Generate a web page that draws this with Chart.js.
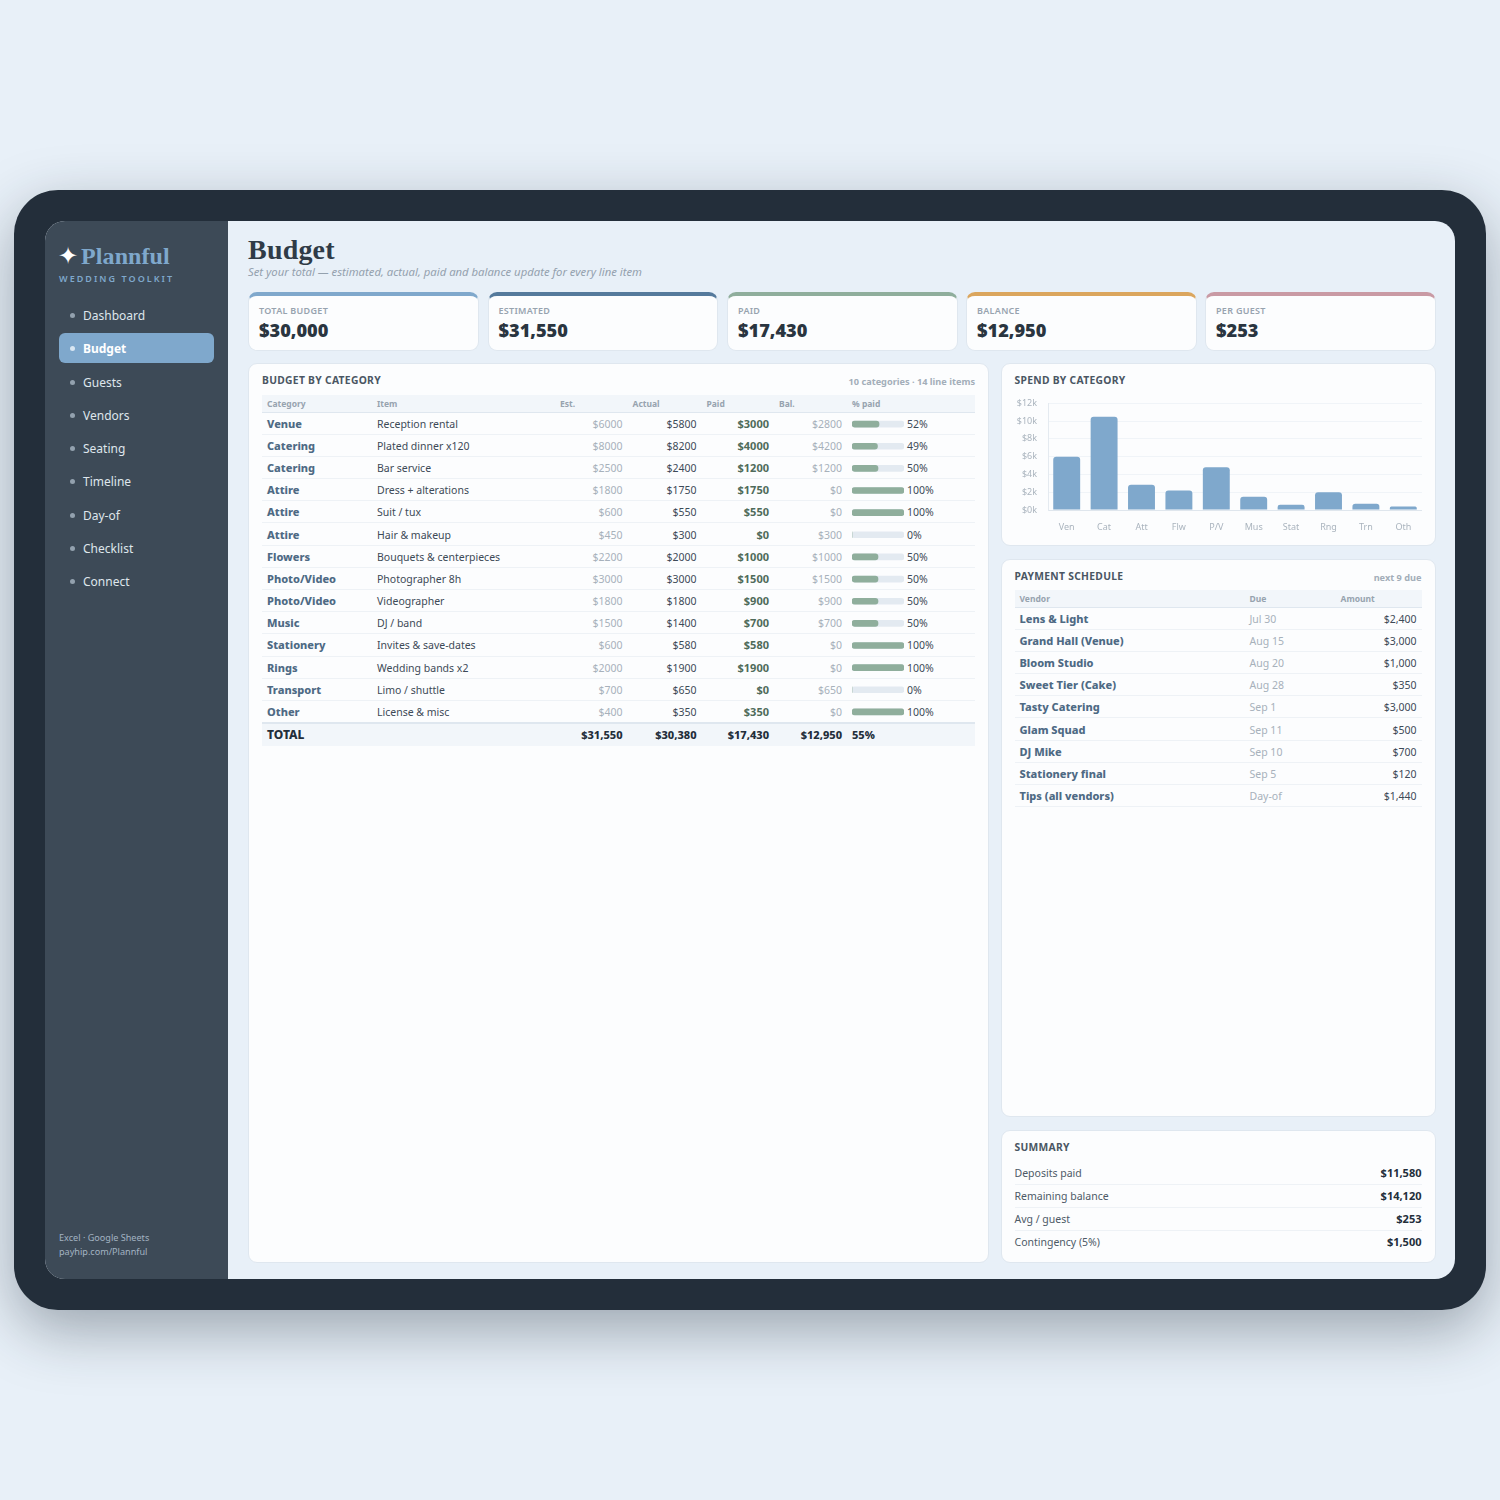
<!DOCTYPE html>
<html>
<head>
<meta charset="utf-8">
<script src="https://cdn.jsdelivr.net/npm/chart.js@4"></script>
<style>
html,body{margin:0;padding:0;width:1500px;height:1500px;overflow:hidden;background:#e8f0f8;font-family:"Noto Sans",sans-serif;}
.abs,div.card,#device,#screen,#side{position:absolute;box-sizing:border-box;}
#device{left:14px;top:190px;width:1472px;height:1120px;background:#232e3a;border-radius:44px;box-shadow:0 20px 60px rgba(30,42,56,.38);}
#screen{left:45px;top:221px;width:1410px;height:1058px;background:#e8f0f8;border-radius:20px;overflow:hidden;}
#side{left:0;top:0;width:183px;height:1058px;background:#3d4a57;}
.card{background:#fcfdfe;border:1px solid #dfe7ef;border-radius:9px;}
.logo{left:36px;top:22px;font:bold 24px "Liberation Serif",serif;letter-spacing:.1px;color:#7fa8cc;white-space:nowrap;}
.nav{left:14px;width:155px;height:30px;line-height:31px;border-radius:6px;color:#dfe6ec;font-size:12px;padding-left:24px;}
.nav i{position:absolute;left:11px;top:13px;width:5px;height:5px;border-radius:50%;background:#93a1ae;}
.nav.on{background:#7fa8cc;color:#fff;font-weight:700;}
.nav.on i{background:#d8e6f2;}
.ttl{font-size:10.3px;font-weight:700;letter-spacing:.3px;color:#4a5663;white-space:nowrap;}
.note{font-size:9.2px;font-weight:700;color:#a3aeb9;white-space:nowrap;}
table{position:absolute;border-collapse:collapse;table-layout:fixed;font-size:10.5px;color:#3d4a57;}
th{height:17px;padding:0 5px;background:#f2f6fa;color:#97a3af;font-size:8.5px;font-weight:700;text-align:left;border-bottom:1px solid #dfe7ef;box-sizing:border-box;}
td{height:22.2px;padding:1px 5px 0;border-bottom:1px solid #eef2f6;box-sizing:border-box;white-space:nowrap;}
td.b{padding-top:0;font-size:11px;font-weight:800;color:#4e6a84;}
td.r{text-align:right;}
td.e{color:#a7b1bb;}
td.p{padding-top:0;font-size:11px;font-weight:700;color:#4f6b5a;}
tr.tot td{padding-top:0;background:#f2f6fa;font-size:11px;font-weight:800;color:#232e3a;border-top:2px solid #dfe7ef;border-bottom:none;height:23px;}
tr.tot td:first-child{font-size:12px;}
.row{height:23.1px;line-height:22px;font-size:10.5px;color:#4d5a67;border-bottom:1px solid #eef2f6;}
.row b{position:absolute;right:0;font-size:11px;color:#232e3a;font-weight:700;}
</style>
</head>
<body>
<div id="device"></div>
<div id="screen">
  <div id="side"></div>
</div>

<script>
// kpi cards
var kpiLabels = ["TOTAL BUDGET", "ESTIMATED", "PAID", "BALANCE", "PER GUEST"];
var kpiValues = ["$30,000", "$31,550", "$17,430", "$12,950", "$253"];
var kpiColors = ["#7fa8cc", "#557a9c", "#8fae9c", "#dba65e", "#c99aa4"];

var navItems = ["Dashboard", "Budget", "Guests", "Vendors", "Seating", "Timeline", "Day-of", "Checklist", "Connect"];

// budget table
var rowCats = ["Venue", "Catering", "Catering", "Attire", "Attire", "Attire", "Flowers", "Photo/Video", "Photo/Video", "Music", "Stationery", "Rings", "Transport", "Other"];
var rowItems = ["Reception rental", "Plated dinner x120", "Bar service", "Dress + alterations", "Suit / tux", "Hair & makeup", "Bouquets & centerpieces", "Photographer 8h", "Videographer", "DJ / band", "Invites & save-dates", "Wedding bands x2", "Limo / shuttle", "License & misc"];
var rowEst = [6000, 8000, 2500, 1800, 600, 450, 2200, 3000, 1800, 1500, 600, 2000, 700, 400];
var rowActual = [5800, 8200, 2400, 1750, 550, 300, 2000, 3000, 1800, 1400, 580, 1900, 650, 350];
var rowPaid = [3000, 4000, 1200, 1750, 550, 0, 1000, 1500, 900, 700, 580, 1900, 0, 350];
var rowBal = [2800, 4200, 1200, 0, 0, 300, 1000, 1500, 900, 700, 0, 0, 650, 0];
var rowPct = [52, 49, 50, 100, 100, 0, 50, 50, 50, 50, 100, 100, 0, 100];
var rowTrack = [100, 100, 100, 100, 100, 100, 100, 100, 100, 100, 100, 100, 100, 100];
var totals = ["$31,550", "$30,380", "$17,430", "$12,950", "55%"];

// spend chart
var spendLabels = ["Ven", "Cat", "Att", "Flw", "P/V", "Mus", "Stat", "Rng", "Trn", "Oth"];
var spendValues = [6000, 10500, 2850, 2200, 4800, 1500, 600, 2000, 700, 400];

// payments
var payVendors = ["Lens & Light", "Grand Hall (Venue)", "Bloom Studio", "Sweet Tier (Cake)", "Tasty Catering", "Glam Squad", "DJ Mike", "Stationery final", "Tips (all vendors)"];
var payDue = ["Jul 30", "Aug 15", "Aug 20", "Aug 28", "Sep 1", "Sep 11", "Sep 10", "Sep 5", "Day-of"];
var payAmount = ["$2,400", "$3,000", "$1,000", "$350", "$3,000", "$500", "$700", "$120", "$1,440"];

var summaryLabels = ["Deposits paid", "Remaining balance", "Avg / guest", "Contingency (5%)"];
var summaryValues = ["$11,580", "$14,120", "$253", "$1,500"];

function add(parent, cls, css, html) {
    var d = document.createElement("div");
    d.className = cls;
    d.style.cssText = "position:absolute;" + css;
    if (html !== undefined) d.innerHTML = html;
    parent.appendChild(d);
    return d;
}
function esc(s) { return s.replace(/&/g, "&amp;"); }

var screen_ = document.getElementById("screen");
var side = document.getElementById("side");

// sidebar
add(side, "abs", "left:13px;top:21px;font:24px 'DejaVu Sans';color:#fff;", "\u2726");
add(side, "abs logo", "", "Plannful");
add(side, "abs", "left:14px;top:51px;font-size:9px;font-weight:600;letter-spacing:2.05px;color:#7fa8cc;white-space:nowrap;", "WEDDING TOOLKIT");
navItems.forEach(function(n, i) {
    add(side, "abs nav" + (n === "Budget" ? " on" : ""), "top:" + (79 + i * 33.25) + "px;", "<i></i>" + n);
});
add(side, "abs", "left:14px;top:1010px;font-size:9.1px;line-height:14px;color:#a3b3c2;white-space:nowrap;", "Excel \u00b7 Google Sheets<br>payhip.com/Plannful");

// header (screen is offset 45,221)
add(screen_, "abs", "left:203px;top:13px;font:bold 28px 'Liberation Serif',serif;letter-spacing:.2px;color:#2f3b47;", "Budget");
add(screen_, "abs", "left:203px;top:43px;font-size:11.3px;font-style:italic;color:#94a1ae;white-space:nowrap;", "Set your total \u2014 estimated, actual, paid and balance update for every line item");

// kpis
var kpiX = [203, 442.5, 682, 921, 1160];
kpiLabels.forEach(function(l, i) {
    var c = add(screen_, "card", "left:" + kpiX[i] + "px;top:71px;width:230.5px;height:59px;border-top:4px solid " + kpiColors[i] + ";");
    add(c, "abs", "left:10px;top:8px;font-size:9px;font-weight:600;letter-spacing:.3px;color:#97a3af;white-space:nowrap;", l);
    add(c, "abs", "left:10px;top:22px;font-size:18.2px;font-weight:900;color:#2a3540;white-space:nowrap;", kpiValues[i]);
});

// budget card
var budget = add(screen_, "card", "left:203px;top:142px;width:741px;height:900px;");
add(budget, "abs ttl", "left:13px;top:9px;", "BUDGET BY CATEGORY");
add(budget, "abs note", "right:13px;top:11px;", "10 categories \u00b7 14 line items");

var h = '<colgroup><col style="width:110px"><col style="width:183px"><col style="width:72.5px"><col style="width:74px"><col style="width:72.5px"><col style="width:73px"><col style="width:128px"></colgroup>';
h += "<tr><th>Category</th><th>Item</th><th>Est.</th><th>Actual</th><th>Paid</th><th>Bal.</th><th>% paid</th></tr>";
rowCats.forEach(function(c, i) {
    h += '<tr><td class="b">' + c + "</td><td>" + esc(rowItems[i]) + '</td><td class="r e">$' + rowEst[i] + '</td><td class="r">$' + rowActual[i] +
         '</td><td class="r p">$' + rowPaid[i] + '</td><td class="r e">$' + rowBal[i] + '</td><td style="padding-left:60px">' + rowPct[i] + "%</td></tr>";
});
h += '<tr class="tot"><td>TOTAL</td><td></td><td class="r">' + totals[0] + '</td><td class="r">' + totals[1] + '</td><td class="r">' + totals[2] + '</td><td class="r">' + totals[3] + "</td><td>" + totals[4] + "</td></tr>";
var tb = document.createElement("table");
tb.style.cssText = "left:13px;top:31px;width:713px;";
tb.innerHTML = h;
budget.appendChild(tb);

// progress bars sit over the % paid column
var pctBox = add(budget, "abs", "left:603px;top:49px;width:52px;height:310px;", '<canvas id="pct" width="52" height="310"></canvas>');

// spend card
var spend = add(screen_, "card", "left:955.5px;top:142px;width:435px;height:183px;");
add(spend, "abs ttl", "left:13px;top:9px;", "SPEND BY CATEGORY");
// tick padding pushes the plot down by 16px, so the canvas starts above it
add(spend, "abs", "left:13px;top:23px;width:407px;height:150px;", '<canvas id="spend" width="407" height="150"></canvas>');

// payment card
var pay = add(screen_, "card", "left:955.5px;top:338px;width:435px;height:558px;");
add(pay, "abs ttl", "left:13px;top:9px;", "PAYMENT SCHEDULE");
add(pay, "abs note", "right:13px;top:11px;", "next 9 due");
var p = '<colgroup><col style="width:230px"><col style="width:91px"><col style="width:86px"></colgroup><tr><th>Vendor</th><th>Due</th><th>Amount</th></tr>';
payVendors.forEach(function(v, i) {
    p += '<tr><td class="b">' + esc(v) + '</td><td class="e">' + payDue[i] + '</td><td class="r">' + payAmount[i] + "</td></tr>";
});
var tp = document.createElement("table");
tp.style.cssText = "left:13px;top:30px;width:407px;";
tp.innerHTML = p;
pay.appendChild(tp);

// summary card
var sum = add(screen_, "card", "left:955.5px;top:909px;width:435px;height:133px;");
add(sum, "abs ttl", "left:13px;top:9px;", "SUMMARY");
summaryLabels.forEach(function(l, i) {
    add(sum, "abs row", "left:13px;width:407px;top:" + (31 + i * 23.1) + "px;" + (i === 3 ? "border-bottom:none;" : ""), l + "<b>" + summaryValues[i] + "</b>");
});

Chart.defaults.animation = false;
Chart.defaults.responsive = false;
Chart.defaults.plugins.legend.display = false;
Chart.defaults.plugins.tooltip.enabled = false;

new Chart(document.getElementById("spend"), {
    type: "bar",
    data: {
        labels: spendLabels,
        datasets: [{ data: spendValues, backgroundColor: "#7fa8cc", borderRadius: 3, borderSkipped: "bottom" }]
    },
    options: {
        layout: { padding: 0 },
        scales: {
            x: {
                grid: { display: false },
                border: { color: "#dfe6ed" },
                ticks: { color: "#aab4be", font: { family: "Noto Sans", size: 9 }, padding: 4, maxRotation: 0 },
                afterFit: function(s) { s.height = 27; }
            },
            y: {
                min: 0, max: 12000,
                grid: { color: "#f0f4f8", drawTicks: false },
                border: { color: "#e4eaf0" },
                ticks: { stepSize: 2000, padding: 11, color: "#aab4be", font: { family: "Noto Sans", size: 9 },
                    callback: function(v) { return "$" + (v / 1000) + "k"; } },
                afterFit: function(s) { s.width = 33; }
            }
        }
    }
});

new Chart(document.getElementById("pct"), {
    type: "bar",
    data: {
        labels: rowItems,
        datasets: [
            { data: rowPct, backgroundColor: "#8fae9c", borderRadius: 3, borderSkipped: false, barThickness: 6, grouped: false, order: 1 },
            { data: rowTrack, backgroundColor: "#e3eaf1", borderRadius: 3, borderSkipped: false, barThickness: 6, grouped: false, order: 2 }
        ]
    },
    options: {
        indexAxis: "y",
        layout: { padding: 0 },
        scales: {
            x: { display: false, min: 0, max: 100 },
            y: { display: false }
        }
    }
});
</script>
</body>
</html>
